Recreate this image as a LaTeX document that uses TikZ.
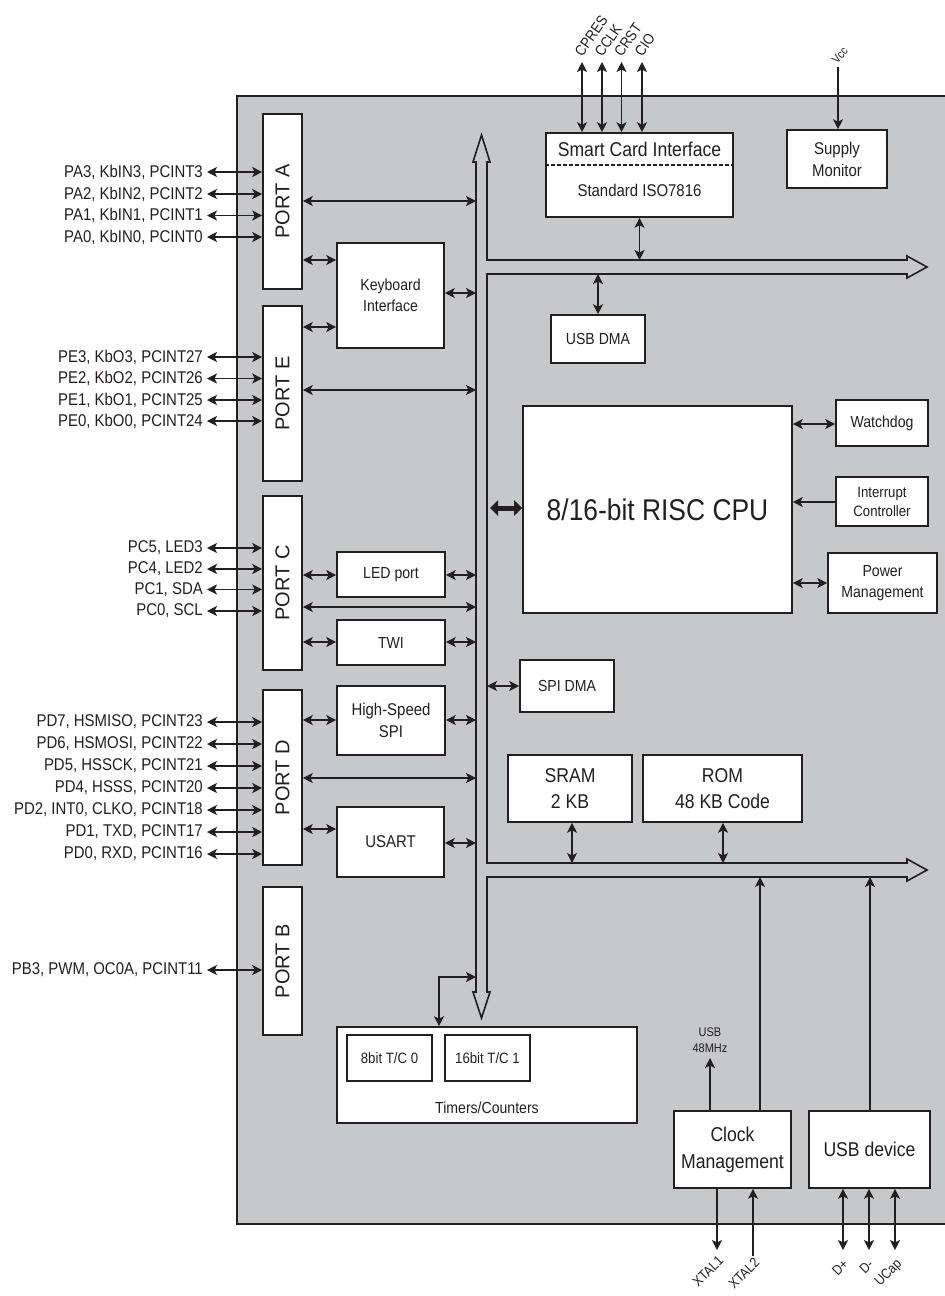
\documentclass[tikz,border=0pt]{standalone}
\usepackage{fontspec}
\setmainfont{Liberation Sans}[FakeStretch=0.88]
\newfontfamily\portfont{Liberation Sans}
\usetikzlibrary{arrows.meta}
\definecolor{bg}{RGB}{199,200,202}
\definecolor{ink}{RGB}{35,31,32}
\newcommand{\fs}[1]{\fontsize{#1}{\fpeval{1.3*#1}}\selectfont}
\begin{document}
\begin{tikzpicture}[x=1pt,y=-1pt,
  every node/.style={text=ink},
  lbl/.style={font=\fontsize{17}{20}\selectfont, inner sep=0pt},
  blk/.style={draw=ink, fill=white, line width=1.6pt, inner sep=0pt, align=center},
  port/.style={blk, minimum width=39pt},
  con/.style={draw=ink, line width=1.3pt},
  tip/.tip={Stealth[length=10pt,width=10pt,inset=2.5pt]},
  dbl/.style={con, tip-tip},
  sgl/.style={con, -tip},
  pintop/.style={font=\fontsize{15}{16}\selectfont, inner sep=0pt, rotate=55, anchor=west},
  pinbot/.style={font=\fontsize{14}{15}\selectfont, inner sep=0pt, rotate=45, anchor=east}
]
\useasboundingbox (0,0) rectangle (945,1296);
\clip (0,0) rectangle (945,1296);
% chip background
\fill[bg] (237,96) rectangle (950,1224);
\draw[ink, line width=1.8pt] (950,96) -- (237,96) -- (237,1224) -- (950,1224);
% bus
\coordinate (busL) at (476,0);
\coordinate (busR) at (487,0);
\draw[ink, line width=1.6pt, fill=bg, line join=miter]
  (476,162) -- (473,162) -- (481.5,135) -- (490,162) -- (487,162) -- (487,260)
  -- (907,260) -- (907,256) -- (927,267) -- (907,278) -- (907,274) -- (487,274)
  -- (487,863) -- (907,863) -- (907,859) -- (927,870) -- (907,881) -- (907,877)
  -- (487,877) -- (487,992) -- (490,992) -- (481.5,1018) -- (473,992) -- (476,992) -- cycle;

% ports
\node[port, minimum height=175pt] (portA) at (282.5,201.5) {\rotatebox{90}{\portfont\fontsize{20}{20}\selectfont PORT A}};
\node[port, minimum height=175pt] (portE) at (282.5,393.5) {\rotatebox{90}{\portfont\fontsize{20}{20}\selectfont PORT E}};
\node[port, minimum height=174pt] (portC) at (282.5,583) {\rotatebox{90}{\portfont\fontsize{20}{20}\selectfont PORT C}};
\node[port, minimum height=175pt] (portD) at (282.5,777.5) {\rotatebox{90}{\portfont\fontsize{20}{20}\selectfont PORT D}};
\node[port, minimum height=148pt] (portB) at (282.5,961) {\rotatebox{90}{\portfont\fontsize{20}{20}\selectfont PORT B}};

% pin labels
\foreach \n/\y/\t/\p in {
  pa3/172/{PA3, KbIN3, PCINT3}/portA, pa2/194/{PA2, KbIN2, PCINT2}/portA,
  pa1/215.5/{PA1, KbIN1, PCINT1}/portA, pa0/237/{PA0, KbIN0, PCINT0}/portA,
  pe3/357/{PE3, KbO3, PCINT27}/portE, pe2/378.5/{PE2, KbO2, PCINT26}/portE,
  pe1/400/{PE1, KbO1, PCINT25}/portE, pe0/421/{PE0, KbO0, PCINT24}/portE,
  pc5/548/{PC5, LED3}/portC, pc4/569/{PC4, LED2}/portC,
  pc1/589.5/{PC1, SDA}/portC, pc0/611/{PC0, SCL}/portC,
  pd7/722/{PD7, HSMISO, PCINT23}/portD, pd6/744/{PD6, HSMOSI, PCINT22}/portD,
  pd5/766/{PD5, HSSCK, PCINT21}/portD, pd4/788/{PD4, HSSS, PCINT20}/portD,
  pd2/810/{PD2, INT0, CLKO, PCINT18}/portD, pd1/832/{PD1, TXD, PCINT17}/portD,
  pd0/854/{PD0, RXD, PCINT16}/portD, pb3/970/{PB3, PWM, OC0A, PCINT11}/portB}{
  \node[lbl, anchor=east] (\n) at (203,\y) {\t};
  \draw[dbl] ([xshift=4pt]\n.east) -- (\n.east -| \p.west);
}

% left column blocks
\node[blk, minimum width=107pt, minimum height=105pt, font=\fs{16}] (kbd) at (390.5,295.5) {Keyboard\\Interface};
\node[blk, minimum width=108pt, minimum height=45pt, font=\fs{16}] (led) at (391,574.5) {LED port};
\node[blk, minimum width=108pt, minimum height=45pt, font=\fs{16}] (twi) at (391,642.5) {TWI};
\node[blk, minimum width=108pt, minimum height=69pt, font=\fs{17}] (hsspi) at (391,720.5) {High-Speed\\SPI};
\node[blk, minimum width=107pt, minimum height=70pt, font=\fs{17}] (usart) at (390.5,842) {USART};

\draw[dbl] (portA.east |- 0,201) -- (busL |- 0,201);
\draw[dbl] (portA.east |- 0,260) -- (kbd.west |- 0,260);
\draw[dbl] (kbd.east |- 0,293) -- (busL |- 0,293);
\draw[dbl] (portE.east |- 0,327) -- (kbd.west |- 0,327);
\draw[dbl] (portE.east |- 0,390) -- (busL |- 0,390);
\draw[dbl] (portC.east |- 0,575) -- (led.west |- 0,575);
\draw[dbl] (led.east |- 0,575) -- (busL |- 0,575);
\draw[dbl] (portC.east |- 0,607) -- (busL |- 0,607);
\draw[dbl] (portC.east |- 0,642) -- (twi.west |- 0,642);
\draw[dbl] (twi.east |- 0,642) -- (busL |- 0,642);
\draw[dbl] (portD.east |- 0,720) -- (hsspi.west |- 0,720);
\draw[dbl] (hsspi.east |- 0,720) -- (busL |- 0,720);
\draw[dbl] (portD.east |- 0,778) -- (busL |- 0,778);
\draw[dbl] (portD.east |- 0,829) -- (usart.west |- 0,829);
\draw[dbl] (usart.east |- 0,843) -- (busL |- 0,843);

% timers
\node[blk, minimum width=300pt, minimum height=96pt] (timers) at (487,1075) {};
\node[blk, minimum width=85pt, minimum height=46pt, font=\fs{15}] (tc0) at (389.5,1058) {8bit T/C 0};
\node[blk, minimum width=85pt, minimum height=46pt, font=\fs{15}] (tc1) at (487.5,1058) {16bit T/C 1};
\node[lbl, font=\fs{16}] (tclbl) at (487,1108) {Timers/Counters};
\draw[dbl] (busL |- 0,977) -| (timers.north -| 439,0);

% smart card
\node[blk, minimum width=187pt, minimum height=84pt] (smart) at (639.5,175) {};
\draw[ink, line width=1.3pt, dash pattern=on 4pt off 2pt] (smart.west |- 0,165) -- (smart.east |- 0,165);
\node[lbl, font=\fs{20}] (smartT) at (639.5,149) {Smart Card Interface};
\node[lbl, font=\fs{17}] (smartB) at (639.5,190) {Standard ISO7816};
\draw[dbl] (smart.south) -- (smart.south |- 0,260);
\foreach \n/\x/\t in {cpres/582/CPRES, cclk/602/CCLK, crst/621.5/CRST, cio/642/CIO}{
  \coordinate (\n e) at (\x,62);
  \draw[dbl] (\n e) -- (smart.north -| \n e);
  \node[pintop] (\n) at (\x-4,55) {\t};
}
% supply
\node[blk, minimum width=100pt, minimum height=58pt, font=\fs{17}] (supply) at (837,159) {Supply\\Monitor};
\coordinate (vcce) at (838,67);
\draw[sgl] (vcce) -- (supply.north -| vcce);
\node[pintop, font=\fontsize{12}{12}\selectfont, rotate=-5] (vcc) at (834,62) {Vcc};

% usb dma
\node[blk, minimum width=94pt, minimum height=48pt, font=\fs{16}] (usbdma) at (598,339) {USB DMA};
\draw[dbl] (usbdma.north) -- (usbdma.north |- 0,274);

% cpu
\node[blk, minimum width=269pt, minimum height=207pt, font=\fs{30}] (cpu) at (657.5,509.5) {8/16-bit RISC CPU};
\draw[ink, line width=5pt, {Stealth[length=8pt,width=15pt,inset=0pt]}-{Stealth[length=8pt,width=15pt,inset=0pt]}] (busR |- 0,508) ++(3,0) -- (cpu.west |- 0,508);
\node[blk, minimum width=92pt, minimum height=46pt, font=\fs{16}] (wdog) at (882,423) {Watchdog};
\node[blk, minimum width=92pt, minimum height=49pt, font=\fontsize{15}{19}\selectfont] (intc) at (882,501.5) {Interrupt\\Controller};
\node[blk, minimum width=109pt, minimum height=60pt, font=\fontsize{16}{21}\selectfont] (pwr) at (882.5,583) {Power\\Management};
\draw[dbl] (cpu.east |- 0,424) -- (wdog.west |- 0,424);
\draw[sgl] (intc.west |- 0,502) -- (cpu.east |- 0,502);
\draw[dbl] (cpu.east |- 0,583) -- (pwr.west |- 0,583);

% spi dma
\node[blk, minimum width=94pt, minimum height=52pt, font=\fs{16}] (spidma) at (567,686) {SPI DMA};
\draw[dbl] (busR |- 0,686) -- (spidma.west |- 0,686);

% memories
\node[blk, minimum width=124pt, minimum height=67pt, font=\fontsize{20}{26}\selectfont] (sram) at (570,788.5) {SRAM\\2 KB};
\node[blk, minimum width=159pt, minimum height=67pt, font=\fontsize{20}{26}\selectfont] (rom) at (722.5,788.5) {ROM\\48 KB Code};
\draw[dbl] (sram.south -| 572,0) -- (572,863);
\draw[dbl] (rom.south -| 723,0) -- (723,863);

% clock / usb device
\node[blk, minimum width=117pt, minimum height=77pt, font=\fontsize{20}{27}\selectfont] (clk) at (732.5,1149.5) {Clock\\Management};
\node[blk, minimum width=121pt, minimum height=77pt, font=\fs{20}] (usbdev) at (869.5,1149.5) {USB device};
\draw[sgl] (clk.north -| 760,0) -- (760,877);
\draw[sgl] (usbdev.north -| 870,0) -- (870,877);
\coordinate (usbe) at (710,1058);
\draw[sgl] (clk.north -| usbe) -- (usbe);
\node[lbl, font=\fontsize{12.5}{16}\selectfont, align=center, anchor=south] (usblbl) at (710,1053) {USB\\48MHz};

\coordinate (x1e) at (717,1250);
\coordinate (x2e) at (753,1256);
\draw[sgl] (clk.south -| x1e) -- (x1e);
\draw[sgl] (x2e) -- (clk.south -| x2e);
\node[pinbot] (xtal1) at (721,1258) {XTAL1};
\node[pinbot] (xtal2) at (757,1260) {XTAL2};
\foreach \n/\x/\t/\dx in {dp/843/D+/3, dm/869/D-/2, ucap/895/UCap/5}{
  \coordinate (\n e) at (\x,1250);
  \draw[dbl] (usbdev.south -| \n e) -- (\n e);
  \node[pinbot] (\n) at (\x+\dx,1262) {\t};
}
\end{tikzpicture}
\end{document}
